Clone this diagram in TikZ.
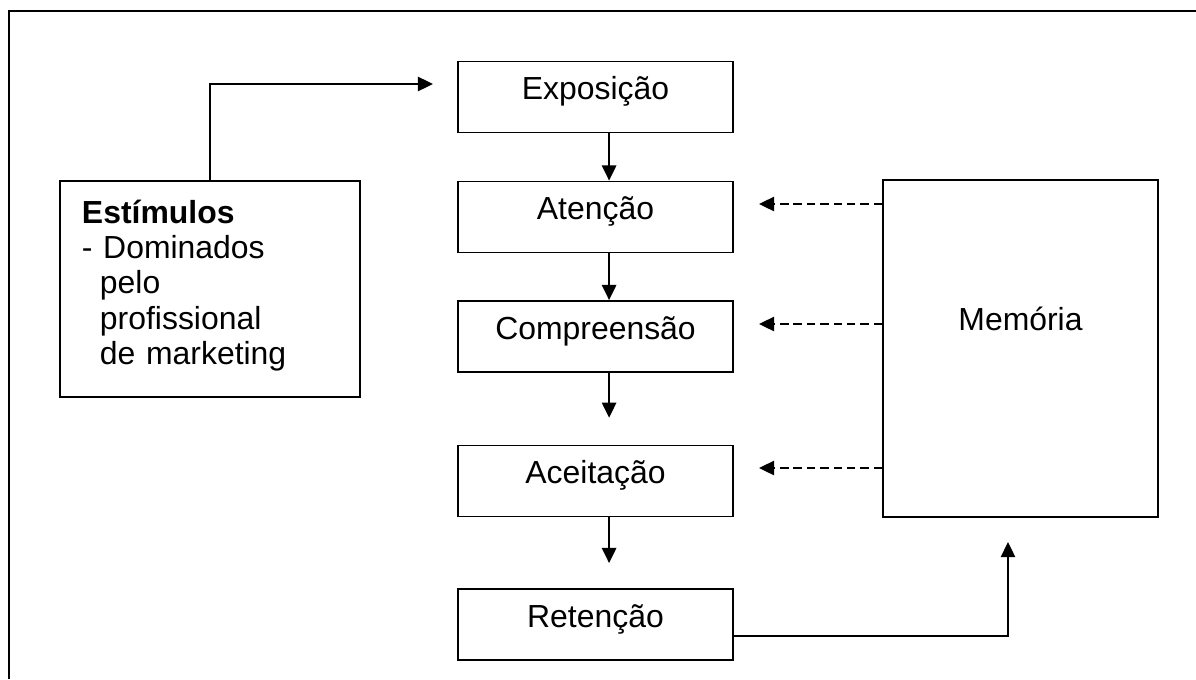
\documentclass[tikz,border=0pt]{standalone}
\usepackage{fontspec}
\setmainfont{Liberation Sans}
\usetikzlibrary{arrows.meta}
\tikzstyle{box_step} = [draw, line width=1.3pt, minimum width=6.875cm, minimum height=1.775cm, inner sep=0pt, text height=0.525cm, text depth=0.4cm, font=\fontsize{22.7}{25.1}\selectfont]
\tikzstyle{box_est} = [draw, line width=1.3pt, minimum width=7.5cm, minimum height=5.4cm, inner xsep=0.55cm, inner ysep=0pt, text width=6.4cm, align=left, font=\fontsize{22.7}{25.1}\selectfont]
\tikzstyle{box_mem} = [draw, line width=1.3pt, minimum width=6.875cm, minimum height=8.425cm, inner sep=0pt]
\tikzstyle{edge_arrow} = [line width=1.2pt, -{Triangle[width=0.36cm,length=0.38cm]}]
\tikzstyle{edge_dashed} = [edge_arrow, dash pattern=on 6pt off 3.5pt]

\begin{document}
\begin{tikzpicture}[x=0.025cm, y=-0.025cm]
			\useasboundingbox (0,0) rectangle (1196,679);
			\draw[line width=2.1pt] (9,679) -- (9,11) -- (1196,11);

			\node (EXP) at (595.5,97) [box_step] {Exposição};
			\node (ATE) at (595.5,217) [box_step] {Atenção};
			\node (COM) at (595.5,336.5) [box_step] {Compreensão};
			\node (ACE) at (595.5,481) [box_step] {Aceitação};
			\node (RET) at (595.5,624.5) [box_step] {Retenção};
			\node (EST) at (210,289) [box_est] {\textbf{Estímulos}\\- Dominados\\\hspace*{0.45cm}pelo\\\hspace*{0.45cm}profissional\\\hspace*{0.45cm}de marketing\rule[-0.35cm]{0pt}{0.1pt}};
			\node (MEM) at (1020.5,348.5) [box_mem, label={[yshift=0.73cm, font=\fontsize{22.7}{25.1}\selectfont]center:Memória}] {};

			\coordinate (S) at (433,84);
			\coordinate (M) at (1008,542);
			\coordinate (T1) at (759,204);
			\coordinate (T2) at (759,324);
			\coordinate (T3) at (759,468);

			\draw[edge_arrow] (EST.north) |- (S);
			\draw[edge_arrow] ([xshift=0.34cm]EXP.south) -- ([xshift=0.34cm]ATE.north);
			\draw[edge_arrow] ([xshift=0.34cm]ATE.south) -- ([xshift=0.34cm]COM.north);
			\draw[edge_arrow, shorten >=0.67cm] ([xshift=0.34cm]COM.south) -- ([xshift=0.34cm]ACE.north);
			\draw[edge_arrow, shorten >=0.625cm] ([xshift=0.34cm]ACE.south) -- ([xshift=0.34cm]RET.north);
			\draw[edge_arrow] ([yshift=-0.29cm]RET.east) -| (M);
			\draw[edge_dashed] (MEM.west |- T1) -- (T1);
			\draw[edge_dashed] (MEM.west |- T2) -- (T2);
			\draw[edge_dashed] (MEM.west |- T3) -- (T3);
		\end{tikzpicture}
\end{document}
